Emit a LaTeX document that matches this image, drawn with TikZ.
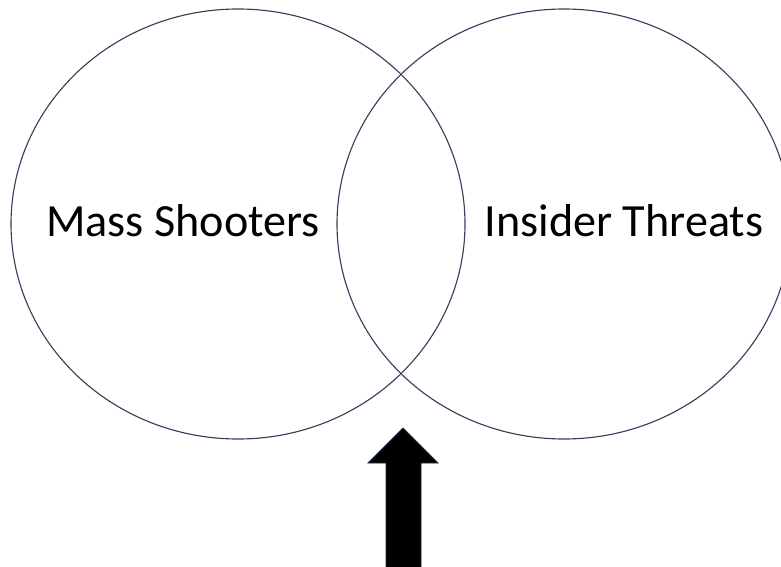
\documentclass[tikz,border=0pt]{standalone}
\usepackage{fontspec}
\setmainfont{Carlito}
\usetikzlibrary{shapes.geometric}
\definecolor{ringcol}{HTML}{34405C}
\definecolor{arrowedge}{HTML}{1F2A44}
\tikzset{
  ring/.style={draw=ringcol, line width=0.85pt, ellipse, minimum width=340.5pt, minimum height=322.5pt, inner sep=0pt},
  lbl/.style={anchor=base, inner sep=0pt, font=\fontsize{34.6}{40}\selectfont},
  bigarrow/.style={fill=black, draw=arrowedge, line width=0.6pt, line join=miter}
}
\begin{document}
\begin{tikzpicture}[x=0.75pt, y=-0.75pt]
\useasboundingbox (0,0) rectangle (781,567);
\node[ring] (left) at (238,224) {};
\node[ring] (right) at (564,224) {};
\node[lbl] (ms) at (183,236.5) {Mass Shooters};
\node[lbl] (it) at (624,236.5) {Insider Threats};
\coordinate (tip) at (403,428);
\coordinate (hl) at (368,463);
\coordinate (hr) at (438,463);
\coordinate (sl) at (386,463);
\coordinate (sr) at (421,463);
\coordinate (bl) at (386,572);
\coordinate (br) at (421,572);
\draw[bigarrow] (tip) -- (hr) -- (sr) -- (br) -- (bl) -- (sl) -- (hl) -- cycle;
\end{tikzpicture}
\end{document}
